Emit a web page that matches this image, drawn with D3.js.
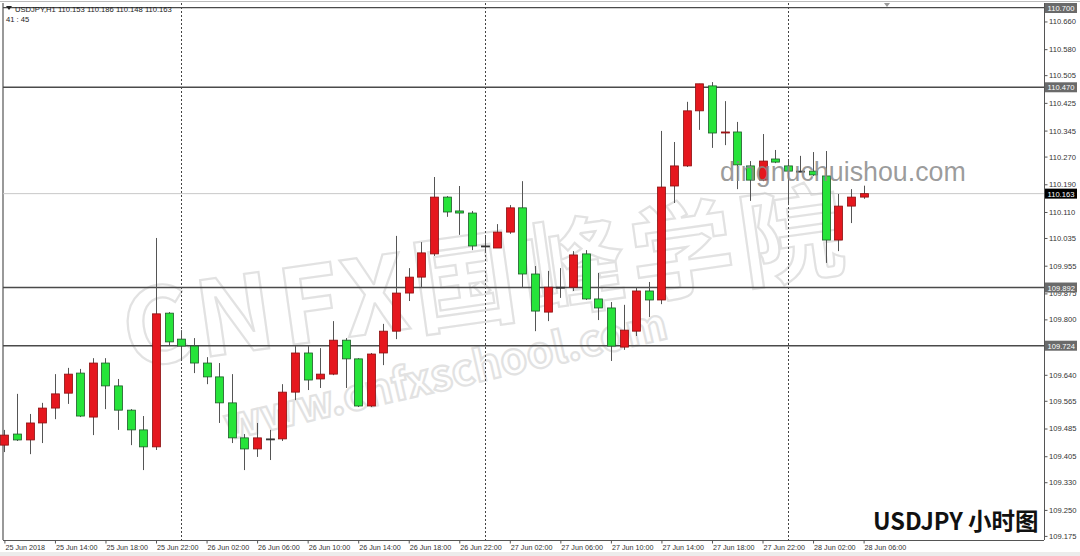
<!DOCTYPE html>
<html><head><meta charset="utf-8">
<script src="https://cdn.jsdelivr.net/npm/d3@7/dist/d3.min.js"></script>
<style>body{margin:0;background:#fff}svg{display:block}</style>
</head><body><svg id="c" width="1080" height="556"></svg>
<script>
// ---- data (USDJPY H1) ----
const opens  = [109.437,109.469,109.452,109.501,109.544,109.587,109.645,109.518,109.674,109.608,
                109.538,109.481,109.432,109.818,109.743,109.723,109.674,109.634,109.559,109.458,
                109.426,109.455,109.455,109.590,109.703,109.628,109.642,109.740,109.686,109.550,
                109.703,109.766,109.876,109.922,109.989,110.153,110.113,110.107,110.012,110.006,
                110.052,110.122,109.931,109.821,109.893,109.893,109.989,109.859,109.833,109.720,
                109.766,109.882,109.856,110.185,110.243,110.402,110.474,110.338,110.341,110.243,
                110.202,110.263,110.243,110.228,110.228,110.214,110.029,110.127,110.153];
const highs  = [109.481,109.585,109.527,109.559,109.642,109.660,109.657,109.688,109.688,109.628,
                109.541,109.521,110.035,109.821,109.769,109.746,109.691,109.674,109.642,109.469,
                109.501,109.481,109.613,109.723,109.723,109.717,109.795,109.746,109.688,109.703,
                109.787,110.041,109.948,110.023,110.211,110.156,110.185,110.113,110.038,110.075,
                110.130,110.199,109.954,109.940,109.948,109.997,110.000,109.934,109.850,109.842,
                109.893,109.908,110.344,110.312,110.428,110.480,110.485,110.430,110.370,110.257,
                110.335,110.289,110.260,110.272,110.283,110.286,110.162,110.176,110.186];
const lows   = [109.417,109.449,109.411,109.443,109.512,109.556,109.518,109.466,109.541,109.481,
                109.437,109.365,109.423,109.726,109.683,109.645,109.613,109.501,109.443,109.365,
                109.403,109.394,109.449,109.567,109.596,109.602,109.639,109.602,109.547,109.547,
                109.668,109.743,109.853,109.891,109.983,110.096,110.044,110.000,109.992,110.006,
                110.047,109.891,109.766,109.795,109.862,109.882,109.856,109.798,109.680,109.712,
                109.752,109.807,109.844,110.136,110.240,110.347,110.295,110.303,110.176,110.142,
                110.199,110.251,110.130,110.225,110.214,109.963,109.997,110.078,110.148];
const closes = [109.466,109.452,109.501,109.544,109.585,109.642,109.521,109.674,109.608,109.538,
                109.481,109.432,109.816,109.735,109.723,109.674,109.634,109.559,109.458,109.426,
                109.458,109.455,109.590,109.703,109.625,109.642,109.740,109.686,109.550,109.700,
                109.766,109.876,109.922,109.992,110.153,110.110,110.107,110.012,110.012,110.052,
                110.122,109.931,109.824,109.893,109.893,109.986,109.859,109.833,109.723,109.769,
                109.882,109.856,110.182,110.243,110.402,110.480,110.338,110.341,110.246,110.202,
                110.257,110.254,110.228,110.228,110.217,110.029,110.127,110.153,110.163];
const firstBar = new Date(2018, 5, 25, 10);
const lastBar  = new Date(2018, 5, 28, 6);
const barTimes = d3.timeHour.range(firstBar, new Date(2018, 5, 28, 7));

const priceTicks = [110.660,110.580,110.505,110.425,110.345,110.270,110.190,110.110,110.035,109.955,
                    109.875,109.800,109.640,109.565,109.485,109.405,109.330,109.250,109.175];
const levelLines = [110.700, 110.470, 109.892, 109.724];
const bidPrice = 110.163;
const timeTickDates = ["2018-06-25 10:00","2018-06-25 14:00","2018-06-25 18:00","2018-06-25 22:00",
  "2018-06-26 02:00","2018-06-26 06:00","2018-06-26 10:00","2018-06-26 14:00","2018-06-26 18:00",
  "2018-06-26 22:00","2018-06-27 02:00","2018-06-27 06:00","2018-06-27 10:00","2018-06-27 14:00",
  "2018-06-27 18:00","2018-06-27 22:00","2018-06-28 02:00","2018-06-28 06:00"];
const timeTickLabels = ["25 Jun 2018","25 Jun 14:00","25 Jun 18:00","25 Jun 22:00","26 Jun 02:00",
  "26 Jun 06:00","26 Jun 10:00","26 Jun 14:00","26 Jun 18:00","26 Jun 22:00","27 Jun 02:00",
  "27 Jun 06:00","27 Jun 10:00","27 Jun 14:00","27 Jun 18:00","27 Jun 22:00","28 Jun 02:00","28 Jun 06:00"];
const daySeparators = ["2018-06-26 00:00","2018-06-27 00:00","2018-06-28 00:00"];

// ---- layout ----
const svg = d3.select("#c");
const L = 3, R = 1044, T = 3, B = 540;
const parse = d3.timeParse("%Y-%m-%d %H:%M");
const x = d3.scaleTime().domain([firstBar, lastBar]).range([4.4, 863.6]);
const y = d3.scaleLinear().domain([109.175, 110.700]).range([535.9, 7.6]);
const FONT = "'Liberation Sans', Arial, sans-serif";
const RED = "#e5171e", GREEN = "#26e43a";

svg.append("rect").attr("width",1080).attr("height",556).attr("fill","#fff");
svg.append("rect").attr("x",0).attr("y",552).attr("width",1080).attr("height",4).attr("fill","#ececec");

// frame
svg.append("line").attr("x1",L).attr("x2",L).attr("y1",T).attr("y2",B).attr("stroke","#777").attr("stroke-width",1.5);
svg.append("line").attr("x1",0).attr("x2",1080).attr("y1",1.5).attr("y2",1.5).attr("stroke","#bbb").attr("stroke-width",1);
svg.append("line").attr("x1",R+0.5).attr("x2",R+0.5).attr("y1",T).attr("y2",B).attr("stroke","#555");
svg.append("line").attr("x1",L).attr("x2",R).attr("y1",B+0.5).attr("y2",B+0.5).attr("stroke","#555");
// shift marker
svg.append("path").attr("d","M884,3 L890,3 L887,7 Z").attr("fill","#999");

// watermark text (faint)
const wm = svg.append("g").attr("font-family","'Noto Sans CJK SC', sans-serif").attr("font-weight","bold")
  .attr("fill","none").attr("stroke","#e2e2e2").attr("stroke-width",2.2);
wm.append("text").attr("transform","translate(128,368) rotate(-8)").attr("font-size",104)
  .attr("letter-spacing",6).text("CNFX国峰学院");
wm.append("text").attr("transform","translate(228,440) rotate(-13)").attr("font-size",43).text("www.cnfxschool.com");

// day separators
svg.selectAll("line.sep").data(daySeparators).join("line").attr("class","sep")
  .attr("x1",d=>Math.round(x(parse(d)))+0.5).attr("x2",d=>Math.round(x(parse(d)))+0.5)
  .attr("y1",T).attr("y2",B).attr("stroke","#444").attr("stroke-dasharray","2,2");

// level lines
svg.selectAll("line.lvl").data(levelLines).join("line").attr("class","lvl")
  .attr("x1",L).attr("x2",R).attr("y1",d=>y(d)).attr("y2",d=>y(d))
  .attr("stroke","#4a4a4a").attr("stroke-width",1.4);
svg.append("line").attr("x1",L).attr("x2",R).attr("y1",y(bidPrice)).attr("y2",y(bidPrice))
  .attr("stroke","#c8c8c8").attr("stroke-width",1);

// candles
const bars = barTimes.map((t,i)=>({t,o:opens[i],h:highs[i],l:lows[i],c:closes[i]}));
const g = svg.append("g");
g.selectAll("line.wick").data(bars).join("line")
  .attr("x1",d=>Math.round(x(d.t))+0.5).attr("x2",d=>Math.round(x(d.t))+0.5)
  .attr("y1",d=>y(d.h)).attr("y2",d=>y(d.l)).attr("stroke","#555").attr("stroke-width",1);
g.selectAll("rect.body").data(bars).join("rect")
  .attr("x",d=>Math.round(x(d.t))-3.5).attr("width",8)
  .attr("y",d=>y(Math.max(d.o,d.c)))
  .attr("height",d=>Math.max(1,Math.abs(y(d.o)-y(d.c))))
  .attr("fill",d=>d.c>d.o?RED:(d.c<d.o?GREEN:"#333"))
  .attr("stroke",d=>d.c>d.o?"#8a1010":(d.c<d.o?"#1f5a2a":"#333")).attr("stroke-width",0.8);

// second watermark url
svg.append("text").attr("x",720).attr("y",181).attr("font-family","'Liberation Sans', Arial, sans-serif")
  .attr("font-size",26.8).attr("fill","#8a8a8a").attr("fill-opacity",0.85).text("dingnuchuishou.com");

// right axis
const ay = svg.append("g").attr("transform",`translate(${R+0.5},0)`)
  .call(d3.axisRight(y).tickValues(priceTicks).tickFormat(d3.format(".3f")).tickSize(3).tickPadding(1.5));
ay.select(".domain").remove();
ay.selectAll("line").attr("stroke","#555");
ay.selectAll("text").attr("font-family",FONT).attr("font-size",7.6).attr("fill","#333");

// highlighted price labels
const tags = levelLines.map(v=>({v,bg:"#6a6a6a"})).concat([{v:bidPrice,bg:"#000"}]);
const tg = svg.selectAll("g.tag").data(tags).join("g").attr("class","tag")
  .attr("transform",d=>`translate(${R+1},${Math.max(3,y(d.v)-5)})`);
tg.append("rect").attr("width",32).attr("height",10).attr("fill",d=>d.bg);
tg.append("text").attr("x",2.5).attr("y",8).attr("font-family",FONT).attr("font-size",7.6)
  .attr("fill","#fff").text(d=>d3.format(".3f")(d.v));

// bottom axis
const tDates = timeTickDates.map(parse);
const ax = svg.append("g").attr("transform",`translate(0,${B+0.5})`)
  .call(d3.axisBottom(x).tickValues(tDates).tickFormat((d,i)=>timeTickLabels[i]).tickSize(3).tickPadding(1));
ax.select(".domain").remove();
ax.selectAll("line").attr("stroke","#555");
ax.selectAll("text").attr("font-family",FONT).attr("font-size",7.2).attr("fill","#333")
  .attr("text-anchor","start").attr("dx",0.5);

// header
svg.append("path").attr("d","M6,6 L12,6 L9,10 Z").attr("fill","#222");
svg.append("text").attr("x",15).attr("y",12).attr("font-family",FONT).attr("font-size",7.6).attr("fill","#222")
  .text(`USDJPY,H1  ${d3.format(".3f")(opens[68])} ${d3.format(".3f")(highs[68])} ${d3.format(".3f")(lows[68])} ${d3.format(".3f")(closes[68])}`);
svg.append("text").attr("x",6).attr("y",22).attr("font-family",FONT).attr("font-size",7.6).attr("fill","#222").text("41 : 45");

// title box
svg.append("rect").attr("x",866).attr("y",503).attr("width",178).attr("height",34).attr("fill","#fff");
svg.append("text").attr("x",873).attr("y",530).attr("font-family","'Noto Sans CJK SC', sans-serif")
  .attr("font-weight","bold").attr("font-size",23.5).attr("fill","#111").text("USDJPY 小时图");
</script></body></html>
